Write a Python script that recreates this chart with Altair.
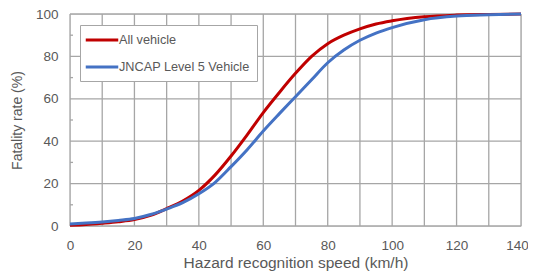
import altair as alt
import pandas as pd

speed = [0, 5, 10, 15, 20, 25, 30, 35, 40, 45, 50, 55, 60, 65, 70, 75, 80, 85, 90, 95, 100, 110, 120, 130, 140]
all_vehicle = [0.3, 0.7, 1.3, 2.0, 3.0, 5.0, 8.2, 11.8, 16.8, 24.0, 33.0, 43.0, 53.5, 63.0, 72.0, 80.0, 86.0, 90.0, 93.0, 95.3, 96.8, 98.7, 99.5, 99.8, 100.0]
jncap_l5 = [1.0, 1.4, 1.9, 2.6, 3.5, 5.4, 8.0, 11.0, 15.2, 20.5, 28.0, 36.0, 44.8, 53.0, 61.0, 69.0, 77.0, 83.0, 87.6, 91.0, 93.6, 97.3, 99.0, 99.6, 100.0]
series_names = ["All vehicle", "JNCAP Level 5 Vehicle"]
series_colors = ["#C00000", "#4472C4"]
x_ticks = list(range(0, 141, 20))
x_grid = list(range(0, 141, 10))
y_ticks = list(range(0, 101, 20))
y_minor = [10, 30, 50, 70, 90]

rows = []
for s, a, b in zip(speed, all_vehicle, jncap_l5):
    rows.append({"speed": s, "rate": a, "series": series_names[0]})
    rows.append({"speed": s, "rate": b, "series": series_names[1]})
df = pd.DataFrame(rows)

FONT = "Liberation Sans"
GRID = "#a6a6a6"
TXT = "#595959"

xscale = alt.Scale(domain=[0, 140], nice=False, zero=False)
yscale = alt.Scale(domain=[0, 100], nice=False)

lines = alt.Chart(df).mark_line(strokeWidth=3, interpolate="monotone").encode(
    x=alt.X("speed:Q", scale=xscale,
            axis=alt.Axis(values=x_ticks, title="Hazard recognition speed (km/h)",
                          grid=False, ticks=False, domain=False, labelFlush=False,
                          labelOffset={"condition": {"test": "datum.value == 140", "value": -4}, "value": 0},
                          labelFont=FONT, labelFontSize=13.5, labelColor=TXT, labelPadding=12,
                          titleFont=FONT, titleFontSize=15.5, titleColor=TXT, titleFontWeight="normal",
                          titlePadding=4)),
    y=alt.Y("rate:Q", scale=yscale,
            axis=alt.Axis(values=y_ticks, title="Fatality rate (%)",
                          grid=False, ticks=False, domain=False, labelFlush=False,
                          labelFont=FONT, labelFontSize=13.5, labelColor=TXT, labelPadding=12,
                          titleFont=FONT, titleFontSize=14, titleColor=TXT, titleFontWeight="normal",
                          titlePadding=11)),
    color=alt.Color("series:N", sort=series_names,
                    scale=alt.Scale(domain=series_names, range=series_colors),
                    legend=alt.Legend(title=None, orient="none", legendX=10, legendY=11,
                                      symbolType="M-2.5,0H2.5", symbolSize=169, symbolStrokeWidth=3,
                                      symbolOffset=7,
                                      labelFont=FONT, labelFontSize=12.7, labelColor=TXT,
                                      labelOffset=9, rowPadding=12, padding=7,
                                      strokeColor=GRID, fillColor="white", cornerRadius=0)),
)

vgrid = alt.Chart(pd.DataFrame({"g": x_grid})).mark_rule(color=GRID, strokeWidth=1.3).encode(
    x=alt.X("g:Q", scale=xscale)
)
hgrid = alt.Chart(pd.DataFrame({"g": y_ticks})).mark_rule(color=GRID, strokeWidth=1.3).encode(
    y=alt.Y("g:Q", scale=yscale)
)
minor = alt.Chart(pd.DataFrame({"g": y_minor})).mark_rule(color=GRID, strokeWidth=1.3).encode(
    y=alt.Y("g:Q", scale=yscale), x=alt.value(0), x2=alt.value(3)
)

chart = alt.layer(vgrid, hgrid, minor, lines).properties(
    width=451, height=212,
    autosize=alt.AutoSizeParams(type="none"),
    padding={"left": 62, "top": 6, "right": 7, "bottom": 46},
).configure_view(stroke=None).configure(background="white")

chart.save("out.html", embed_options={"renderer": "svg", "actions": False})
